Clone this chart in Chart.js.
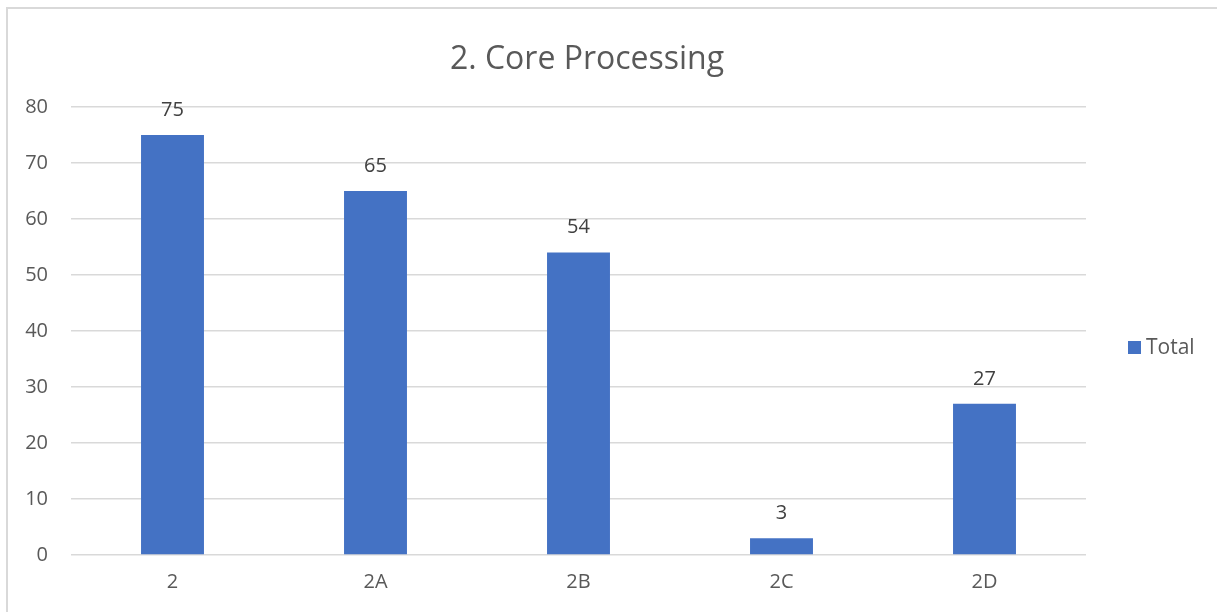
<!DOCTYPE html>
<html>
<head>
<meta charset="utf-8">
<script src="https://cdn.jsdelivr.net/npm/chart.js@4/dist/chart.umd.min.js"></script>
<style>
  html, body { margin: 0; padding: 0; background: #ffffff; }
  #wrap { position: absolute; left: 0; top: 0; width: 1217px; height: 612px; }
</style>
</head>
<body>
<div id="wrap"><canvas id="c" width="1217" height="612"></canvas></div>
<script>
const titleText = '2. Core Processing';
const categories = ['2', '2A', '2B', '2C', '2D'];
const seriesName = 'Total';
const totals = [75, 65, 54, 3, 27];
const yTicks = [0, 10, 20, 30, 40, 50, 60, 70, 80];

const FONT = "'Open Sans', 'Liberation Sans', sans-serif";
const BAR = '#4472C4';
const TEXT = '#595959';
const GRID = '#d9d9d9';

// Frame line along the top and left edges of the chart box
const framePlugin = {
  id: 'frame',
  beforeDraw(chart) {
    const ctx = chart.ctx;
    ctx.save();
    ctx.fillStyle = '#ffffff';
    ctx.fillRect(0, 0, chart.width, chart.height);
    ctx.strokeStyle = GRID;
    ctx.lineWidth = 2;
    ctx.beginPath();
    ctx.moveTo(7, chart.height);
    ctx.lineTo(7, 8);
    ctx.lineTo(chart.width, 8);
    ctx.stroke();
    ctx.restore();
  }
};

// Chart heading, centred over the whole chart box
const heading = {
  id: 'heading',
  afterDraw(chart) {
    const ctx = chart.ctx;
    ctx.save();
    ctx.font = '32px ' + FONT;
    ctx.fillStyle = TEXT;
    ctx.textAlign = 'center';
    ctx.textBaseline = 'middle';
    ctx.fillText(titleText, 587, 60);
    ctx.restore();
  }
};

// Value labels above each bar
const valueLabels = {
  id: 'valueLabels',
  afterDatasetsDraw(chart) {
    const ctx = chart.ctx;
    ctx.save();
    ctx.font = '20px ' + FONT;
    ctx.fillStyle = '#404040';
    ctx.textAlign = 'center';
    ctx.textBaseline = 'middle';
    chart.data.datasets.forEach((ds, di) => {
      chart.getDatasetMeta(di).data.forEach((bar, i) => {
        ctx.fillText(String(ds.data[i]), bar.x, bar.y - 25);
      });
    });
    ctx.restore();
  }
};

// Legend to the right of the plot
const sideLegend = {
  id: 'sideLegend',
  afterDraw(chart) {
    const ctx = chart.ctx;
    const ds = chart.data.datasets[0];
    const x = 1128, y = 348;
    ctx.save();
    ctx.fillStyle = ds.backgroundColor;
    ctx.fillRect(x, y - 7, 13, 13);
    ctx.font = '21px ' + FONT;
    ctx.fillStyle = TEXT;
    ctx.textAlign = 'left';
    ctx.textBaseline = 'middle';
    ctx.fillText(ds.label, x + 18, y);
    ctx.restore();
  }
};

new Chart(document.getElementById('c'), {
  type: 'bar',
  data: {
    labels: categories,
    datasets: [{
      label: seriesName,
      data: totals,
      backgroundColor: BAR,
      borderWidth: 0,
      categoryPercentage: 1.0,
      barPercentage: 0.31
    }]
  },
  options: {
    responsive: false,
    animation: false,
    devicePixelRatio: 1,
    layout: { padding: { left: 0, right: 131, top: 107, bottom: 0 } },
    plugins: {
      legend: { display: false },
      tooltip: { enabled: false },
      title: { display: false }
    },
    scales: {
      x: {
        grid: { display: false, drawTicks: false },
        border: { display: false },
        ticks: { color: TEXT, font: { family: FONT, size: 20 }, padding: 15 },
        afterFit(scale) { scale.height = 57; }
      },
      y: {
        min: 0,
        max: 80,
        afterBuildTicks(scale) { scale.ticks = yTicks.map(v => ({ value: v })); },
        grid: { color: GRID, lineWidth: 1.5, drawTicks: false },
        border: { display: false },
        ticks: { color: TEXT, font: { family: FONT, size: 20 }, padding: 23 },
        afterFit(scale) { scale.width = 71; }
      }
    }
  },
  plugins: [framePlugin, heading, valueLabels, sideLegend]
});
</script>
</body>
</html>
